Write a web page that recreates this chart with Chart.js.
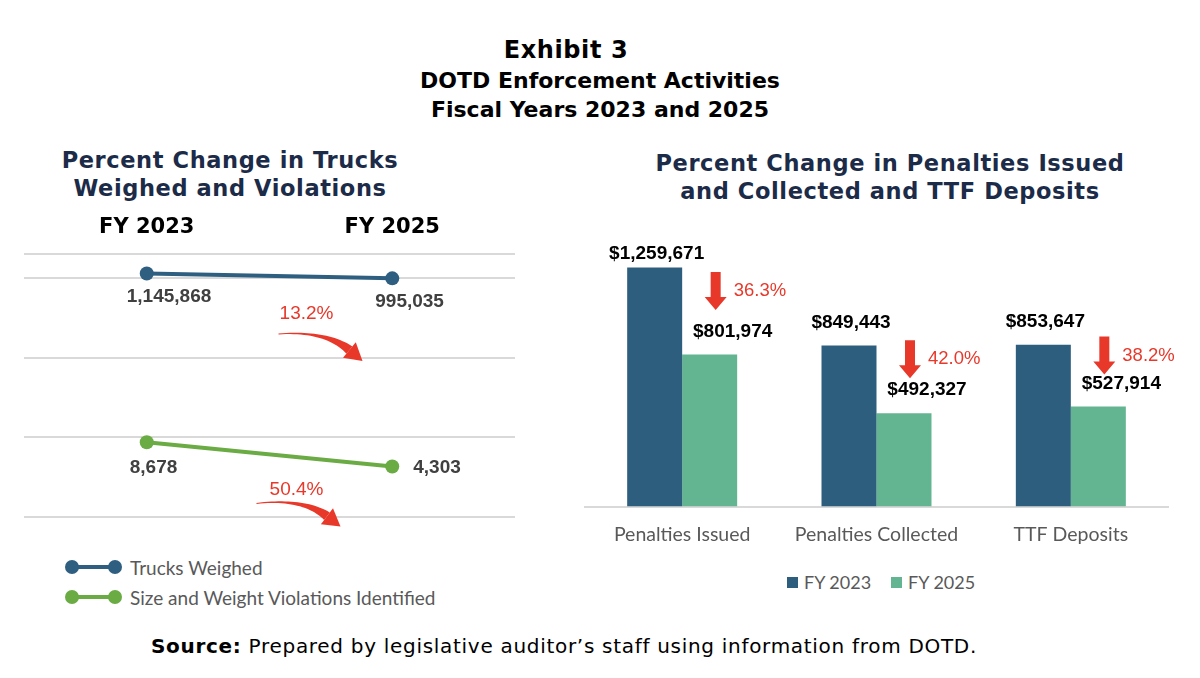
<!DOCTYPE html>
<html>
<head>
<meta charset="utf-8">
<script src="https://cdn.jsdelivr.net/npm/chart.js@4.4.1/dist/chart.umd.min.js"></script>
<style>
  html, body { margin: 0; padding: 0; background: #fff; }
  body { width: 1200px; height: 678px; position: relative; overflow: hidden; font-family: "DejaVu Sans", Verdana, sans-serif; }
  .title { position: absolute; left: 0; width: 1200px; text-align: center; font-weight: bold; font-size: 22px; line-height: 29px; color: #000; }
  .sub { position: absolute; text-align: center; font-weight: bold; font-size: 22.5px; line-height: 28px; color: #1c2b48; letter-spacing: 0.6px; }
  .box { position: absolute; }
  .legend { position: absolute; font-family: Lato, sans-serif; font-size: 19px; color: #595959; }
  .legend .item { display: flex; align-items: center; height: 30px; white-space: nowrap; }
  .lineIcon { position: relative; width: 57px; height: 14px; margin-right: 8px; }
  .lineIcon .bar { position: absolute; left: 7px; right: 7px; top: 5px; height: 4px; }
  .lineIcon .dot { position: absolute; top: 0; width: 14px; height: 14px; border-radius: 50%; }
  .sq { display: inline-block; width: 11px; height: 11px; margin-right: 6px; }
  .source { position: absolute; left: 0; top: 634px; width: 1128px; text-align: center; font-size: 20px; letter-spacing: 0.7px; color: #000; }
</style>
</head>
<body>
<div class="title" style="top:36px; left:-34px; font-size:24px; letter-spacing:0.6px;">Exhibit 3</div>
<div class="title" style="top:66px;">DOTD Enforcement Activities<br>Fiscal Years 2023 and 2025</div>
<div class="sub" style="left:30px; width:400px; top:146px;">Percent Change in Trucks<br>Weighed and Violations</div>
<div class="sub" style="left:640px; width:500px; top:149px;">Percent Change in Penalties Issued<br>and Collected and TTF Deposits</div>

<div class="box" style="left:0; top:200px; width:530px; height:330px;"><canvas id="trendChart"></canvas></div>
<div class="legend" id="trendLegend" style="left:65px; top:552px;"></div>

<div class="box" style="left:580px; top:230px; width:610px; height:332px;"><canvas id="penaltyChart"></canvas></div>
<div class="legend" id="penaltyLegend" style="left:787px; top:567px; font-size:18px;"></div>

<div class="source"><b>Source:</b> Prepared by legislative auditor’s staff using information from DOTD.</div>

<script>
// left chart
const fiscalYears = ['FY 2023', 'FY 2025'];
const trucksWeighed = [1145868, 995035];
const violationsFound = [8678, 4303];
const trendTicks = [1000, 10000, 100000, 1000000, 2000000];

// right chart
const penaltyCategories = ['Penalties Issued', 'Penalties Collected', 'TTF Deposits'];
const amountsFY2023 = [1259671, 849443, 853647];
const amountsFY2025 = [801974, 492327, 527914];

const RED = '#e8382a';
const fmt = n => n.toLocaleString('en-US');
const pctDrop = (a, b) => ((a - b) / a * 100).toFixed(1) + '%';

function drawCurvedArrow(ctx, sx, sy, tx, ty) {
    const dx = tx - sx, dy = ty - sy;
    const len = Math.hypot(dx, dy);
    const cx = (sx + tx) / 2 + dy / len * len * 0.2;
    const cy = (sy + ty) / 2 - dx / len * len * 0.2;
    const ux = (tx - cx) / Math.hypot(tx - cx, ty - cy);
    const uy = (ty - cy) / Math.hypot(tx - cx, ty - cy);
    const head = 17;
    const bx = tx - ux * head, by = ty - uy * head;
    const left = [], right = [];
    for (let i = 0; i <= 24; i++) {
        const t = i / 24;
        const px = (1 - t) * (1 - t) * sx + 2 * (1 - t) * t * cx + t * t * bx;
        const py = (1 - t) * (1 - t) * sy + 2 * (1 - t) * t * cy + t * t * by;
        const gx = 2 * (1 - t) * (cx - sx) + 2 * t * (bx - cx);
        const gy = 2 * (1 - t) * (cy - sy) + 2 * t * (by - cy);
        const gl = Math.hypot(gx, gy);
        const w = 0.5 + 3.6 * t * t + 0.6 * t;
        left.push([px - gy / gl * w, py + gx / gl * w]);
        right.push([px + gy / gl * w, py - gx / gl * w]);
    }
    ctx.save();
    ctx.fillStyle = RED;
    ctx.beginPath();
    left.forEach((p, i) => i ? ctx.lineTo(p[0], p[1]) : ctx.moveTo(p[0], p[1]));
    right.reverse().forEach(p => ctx.lineTo(p[0], p[1]));
    ctx.closePath();
    ctx.fill();
    ctx.beginPath();
    ctx.moveTo(tx, ty);
    ctx.lineTo(bx - uy * 10, by + ux * 10);
    ctx.lineTo(bx + uy * 10, by - ux * 10);
    ctx.closePath();
    ctx.fill();
    ctx.restore();
}

function drawDownArrow(ctx, x, yTop, length) {
    const headH = 13, headW = 11, shaftW = 5;
    ctx.save();
    ctx.fillStyle = RED;
    ctx.beginPath();
    ctx.moveTo(x - shaftW, yTop);
    ctx.lineTo(x + shaftW, yTop);
    ctx.lineTo(x + shaftW, yTop + length - headH);
    ctx.lineTo(x + headW, yTop + length - headH);
    ctx.lineTo(x, yTop + length);
    ctx.lineTo(x - headW, yTop + length - headH);
    ctx.lineTo(x - shaftW, yTop + length - headH);
    ctx.closePath();
    ctx.fill();
    ctx.restore();
}

const trendNotes = {
    id: 'trendNotes',
    afterDatasetsDraw(chart, args, opts) {
        const ctx = chart.ctx;
        chart.data.datasets.forEach((ds, di) => {
            const pts = chart.getDatasetMeta(di).data;
            ctx.save();
            ctx.font = 'bold 19px "Liberation Sans", Arial, sans-serif';
            ctx.fillStyle = '#404040';
            ctx.textAlign = 'left';
            ctx.textBaseline = 'middle';
            pts.forEach((p, i) => {
                const o = opts.labelOffsets[di][i];
                ctx.fillText(fmt(ds.data[i]), p.x + o[0], p.y + o[1]);
            });
            // percent change note with curved arrow
            const mx = (pts[0].x + pts[1].x) / 2, my = (pts[0].y + pts[1].y) / 2;
            const a = opts.arrowOffsets[di];
            ctx.font = '19px "Liberation Sans", Arial, sans-serif';
            ctx.fillStyle = RED;
            ctx.textAlign = 'center';
            ctx.fillText(pctDrop(ds.data[0], ds.data[1]), mx + a.text[0], my + a.text[1]);
            ctx.restore();
            drawCurvedArrow(ctx, mx + a.start[0], my + a.start[1], mx + a.tip[0], my + a.tip[1]);
        });
    }
};

const trendChart = new Chart(document.getElementById('trendChart'), {
    type: 'line',
    data: {
        labels: fiscalYears,
        datasets: [
            { label: 'Trucks Weighed', data: trucksWeighed, borderColor: '#2e5f80', backgroundColor: '#2e5f80' },
            { label: 'Size and Weight Violations Identified', data: violationsFound, borderColor: '#6aab44', backgroundColor: '#6aab44' }
        ]
    },
    options: {
        responsive: true,
        maintainAspectRatio: false,
        animation: false,
        layout: { padding: { top: 1, left: 24, right: 15, bottom: 13 } },
        elements: {
            line: { borderWidth: 4, tension: 0 },
            point: { radius: 7, borderWidth: 0, hoverRadius: 7 }
        },
        scales: {
            x: {
                position: 'top',
                offset: true,
                grid: { display: false, drawTicks: false },
                border: { display: false },
                ticks: { color: '#000', padding: 14, font: { family: '"DejaVu Sans", Verdana, sans-serif', size: 21, weight: 'bold' } }
            },
            y: {
                type: 'logarithmic',
                min: 1000,
                max: 2000000,
                afterBuildTicks: axis => { axis.ticks = trendTicks.map(v => ({ value: v })); },
                ticks: { display: false },
                grid: { color: '#d9d9d9', lineWidth: 2, drawTicks: false },
                border: { display: false }
            }
        },
        plugins: {
            legend: { display: false },
            tooltip: { enabled: false },
            trendNotes: {
                labelOffsets: [[[-20, 23], [-17, 23]], [[-17, 25], [21, 1]]],
                arrowOffsets: [
                    { text: [37, 38], start: [9, 58], tip: [93, 85] },
                    { text: [27, 35], start: [-13, 49], tip: [71, 72] }
                ]
            }
        }
    },
    plugins: [trendNotes]
});

const penaltyNotes = {
    id: 'penaltyNotes',
    afterDatasetsDraw(chart) {
        const ctx = chart.ctx;
        const top = chart.chartArea.top;
        const older = chart.getDatasetMeta(0).data;
        const newer = chart.getDatasetMeta(1).data;
        ctx.save();
        ctx.font = 'bold 19px "Liberation Sans", Arial, sans-serif';
        ctx.fillStyle = '#000';
        ctx.textAlign = 'center';
        ctx.textBaseline = 'middle';
        older.forEach((b, i) => {
            ctx.fillText('$' + fmt(amountsFY2023[i]), b.x + 2, Math.max(b.y - 22.5, top + 12.5));
        });
        newer.forEach((b, i) => {
            ctx.fillText('$' + fmt(amountsFY2025[i]), b.x + 23, b.y - 23);
        });
        ctx.restore();
        newer.forEach((b, i) => {
            const ax = b.x + 6;
            const mid = (older[i].y + b.y) / 2 - 20;
            drawDownArrow(ctx, ax, mid - 19, 38);
            ctx.save();
            ctx.font = '18.5px "Liberation Sans", Arial, sans-serif';
            ctx.fillStyle = RED;
            ctx.textAlign = 'left';
            ctx.textBaseline = 'middle';
            ctx.fillText(pctDrop(amountsFY2023[i], amountsFY2025[i]), ax + 18, mid);
            ctx.restore();
        });
    }
};

const penaltyChart = new Chart(document.getElementById('penaltyChart'), {
    type: 'bar',
    data: {
        labels: penaltyCategories,
        datasets: [
            { label: 'FY 2023', data: amountsFY2023, backgroundColor: '#2e5e7e' },
            { label: 'FY 2025', data: amountsFY2025, backgroundColor: '#63b592' }
        ]
    },
    options: {
        responsive: true,
        maintainAspectRatio: false,
        animation: false,
        layout: { padding: { top: 11, left: 5, right: 22, bottom: 0 } },
        datasets: { bar: { categoryPercentage: 0.566, barPercentage: 1.0 } },
        scales: {
            x: {
                grid: { display: false, drawTicks: false },
                border: { color: '#d9d9d9', width: 2 },
                ticks: { color: '#595959', padding: 16, font: { family: 'Lato, sans-serif', size: 19.5 } }
            },
            y: { display: false, min: 0, max: 1400000 }
        },
        plugins: {
            legend: { display: false },
            tooltip: { enabled: false }
        }
    },
    plugins: [penaltyNotes]
});

// legends built from the chart datasets
document.getElementById('trendLegend').innerHTML = trendChart.data.datasets.map(ds =>
    `<div class="item"><div class="lineIcon"><div class="bar" style="background:${ds.borderColor}"></div>` +
    `<div class="dot" style="left:0;background:${ds.borderColor}"></div><div class="dot" style="right:0;background:${ds.borderColor}"></div></div>${ds.label}</div>`
).join('');
document.getElementById('penaltyLegend').innerHTML = '<div class="item">' + penaltyChart.data.datasets.map((ds, i) =>
    `<span class="sq" style="background:${ds.backgroundColor}"></span><span style="margin-right:${i ? 0 : 20}px">${ds.label}</span>`
).join('') + '</div>';
</script>
</body>
</html>
